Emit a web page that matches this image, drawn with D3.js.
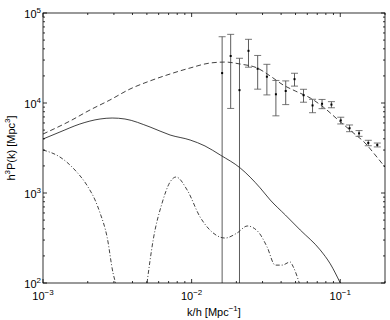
<!DOCTYPE html>
<html>
<head>
<meta charset="utf-8">
<script src="https://cdn.jsdelivr.net/npm/d3@7"></script>
<style>
  body { margin: 0; background: #fff; }
  text { font-family: "Liberation Sans", Arial, sans-serif; fill: #000; }
</style>
</head>
<body>
<script>
// data
// solid curve
const kSolid = [0.001, 0.0013, 0.00177, 0.00242, 0.00292, 0.00356, 0.00525, 0.00716, 0.00977, 0.0123, 0.0156, 0.0212, 0.0289, 0.0338, 0.0427, 0.0538, 0.0733, 0.0857, 0.1];
const pSolid = [3980, 4760, 5840, 6640, 6810, 6640, 5410, 4410, 3880, 3330, 2640, 1900, 1140, 836, 570, 388, 233, 163, 100];
// dashed curve
const kDashed = [0.001, 0.00152, 0.00207, 0.00282, 0.00385, 0.00525, 0.00716, 0.00977, 0.0133, 0.0168, 0.0212, 0.0276, 0.0338, 0.0413, 0.0498, 0.0628, 0.0768, 0.0969, 0.1205, 0.147, 0.172, 0.2];
const pDashed = [4520, 6310, 8360, 10800, 14300, 17600, 21000, 24500, 27800, 28500, 27100, 24500, 19950, 15850, 13600, 11370, 9030, 6470, 4760, 3590, 2640, 1940];
// dash-dot curve (null = drops below the axis)
const kDashDot = [0.001, 0.0013, 0.00164, 0.00201, 0.00224, 0.00242, 0.0027, 0.00296, 0.00308, null, 0.00501, 0.00551, 0.00633, 0.00716, 0.00786, 0.00933, 0.0114, 0.0129, 0.0168, 0.0202, 0.0237, 0.0281, 0.0322, 0.0365, 0.0406, 0.046, 0.0483, 0.053];
const pDashDot = [3005, 2510, 1800, 1165, 836, 600, 324, 129, 100, null, 100, 300, 774, 1325, 1505, 1080, 541, 408, 316, 359, 430, 369, 251, 158, 158, 171, 151, 100];
// measured points with error bars
const kData = [0.01604, 0.01831, 0.02099, 0.02413, 0.02782, 0.03209, 0.0369, 0.04295, 0.04923, 0.05661, 0.06509, 0.07542, 0.08723, 0.1008, 0.1155, 0.1338, 0.1544, 0.1775];
const pData = [21500, 33300, 13900, 38000, 24000, 19600, 12500, 13600, 18400, 12200, 9400, 9800, 9600, 6400, 5250, 4600, 3600, 3420];
const errData = [33000, 24600, 17500, 13000, 9750, 7300, 5300, 4000, 3000, 2000, 1600, 1150, 750, 550, 450, 340, 250, 170];
// axes
const xDomain = [0.001, 0.2];
const yDomain = [100, 100000];
const xTickExp = [-3, -2, -1];
const yTickExp = [2, 3, 4, 5];
//
const w = 390;
const h = 320;
const p = { t: 13, r: 5, b: 37, l: 43 };

// svg
const svg = d3
  .select("body")
  .append("svg")
  .attr("width", w)
  .attr("height", h);

const x = d3.scaleLog().domain(xDomain).range([p.l, w - p.r]);
const y = d3.scaleLog().domain(yDomain).range([h - p.b, p.t]);

svg
  .append("clipPath")
  .attr("id", "clip")
  .append("rect")
  .attr("x", p.l)
  .attr("y", p.t)
  .attr("width", w - p.l - p.r)
  .attr("height", h - p.t - p.b);

const plot = svg.append("g").attr("clip-path", "url(#clip)");

// curves
const line = d3
  .line()
  .defined((d) => d[0] !== null)
  .x((d) => x(d[0]))
  .y((d) => y(d[1]))
  .curve(d3.curveMonotoneX);

plot
  .append("path")
  .attr("d", line(d3.zip(kDashed, pDashed)))
  .attr("fill", "none")
  .attr("stroke", "#111")
  .attr("stroke-width", 0.8)
  .attr("stroke-dasharray", "5,3");

plot
  .append("path")
  .attr("d", line(d3.zip(kSolid, pSolid)))
  .attr("fill", "none")
  .attr("stroke", "#111")
  .attr("stroke-width", 0.8);

plot
  .append("path")
  .attr("d", line(d3.zip(kDashDot, pDashDot)))
  .attr("fill", "none")
  .attr("stroke", "#111")
  .attr("stroke-width", 0.8)
  .attr("stroke-dasharray", "4,2,1,2");

// error bars
const bars = d3.zip(kData, pData, errData);
const lo = (d) => y(Math.max(d[1] - d[2], yDomain[0]));
const cap = 3.5;

plot
  .selectAll(".bar")
  .data(bars)
  .enter()
  .append("line")
  .attr("class", "bar")
  .attr("x1", (d) => x(d[0]))
  .attr("x2", (d) => x(d[0]))
  .attr("y1", (d) => y(d[1] + d[2]))
  .attr("y2", lo)
  .attr("stroke", "#333")
  .attr("stroke-width", 0.8);

plot
  .selectAll(".capTop")
  .data(bars)
  .enter()
  .append("line")
  .attr("class", "capTop")
  .attr("x1", (d) => x(d[0]) - cap)
  .attr("x2", (d) => x(d[0]) + cap)
  .attr("y1", (d) => y(d[1] + d[2]))
  .attr("y2", (d) => y(d[1] + d[2]))
  .attr("stroke", "#555")
  .attr("stroke-width", 0.8);

plot
  .selectAll(".capLow")
  .data(bars.filter((d) => d[1] - d[2] > yDomain[0]))
  .enter()
  .append("line")
  .attr("class", "capLow")
  .attr("x1", (d) => x(d[0]) - cap)
  .attr("x2", (d) => x(d[0]) + cap)
  .attr("y1", lo)
  .attr("y2", lo)
  .attr("stroke", "#555")
  .attr("stroke-width", 0.8);

plot
  .selectAll(".dot")
  .data(bars)
  .enter()
  .append("rect")
  .attr("class", "dot")
  .attr("x", (d) => x(d[0]) - 1)
  .attr("y", (d) => y(d[1]) - 1)
  .attr("width", 2)
  .attr("height", 2)
  .attr("fill", "#000");

// ticks (inside, all four sides)
const minor = (dom) => {
  const out = [];
  for (let e = Math.floor(Math.log10(dom[0])); e <= Math.ceil(Math.log10(dom[1])); e++) {
    for (let m = 1; m < 10; m++) {
      const v = m * Math.pow(10, e);
      if (v >= dom[0] * 0.999 && v <= dom[1] * 1.001) out.push({ v, major: m === 1 });
    }
  }
  return out;
};

const axes = svg.append("g").attr("stroke", "#000").attr("stroke-width", 0.8);
const x0 = p.l, x1 = w - p.r, y0 = h - p.b, y1 = p.t;

minor(xDomain).forEach((t) => {
  const len = t.major ? 4 : 2;
  axes.append("line").attr("x1", x(t.v)).attr("x2", x(t.v)).attr("y1", y0).attr("y2", y0 - len);
  axes.append("line").attr("x1", x(t.v)).attr("x2", x(t.v)).attr("y1", y1).attr("y2", y1 + len);
});
minor(yDomain).forEach((t) => {
  const len = t.major ? 4 : 2;
  axes.append("line").attr("y1", y(t.v)).attr("y2", y(t.v)).attr("x1", x0).attr("x2", x0 + len);
  axes.append("line").attr("y1", y(t.v)).attr("y2", y(t.v)).attr("x1", x1).attr("x2", x1 - len);
});

axes
  .append("rect")
  .attr("x", x0)
  .attr("y", y1)
  .attr("width", x1 - x0)
  .attr("height", y0 - y1)
  .attr("fill", "none");

// tick labels
const pow10 = (sel, e) => {
  sel.append("tspan").text("10");
  sel.append("tspan").attr("dy", -5).attr("font-size", 8).text(e < 0 ? "\u2212" + -e : e);
};

yTickExp.forEach((e) => {
  svg
    .append("text")
    .attr("x", x0 - 2)
    .attr("y", y(Math.pow(10, e)) + 5)
    .attr("text-anchor", "end")
    .attr("font-size", 11)
    .call(pow10, e);
});

xTickExp.forEach((e) => {
  svg
    .append("text")
    .attr("x", x(Math.pow(10, e)))
    .attr("y", y0 + 17)
    .attr("text-anchor", "middle")
    .attr("font-size", 11)
    .call(pow10, e);
});

// axis titles
const xt = svg
  .append("text")
  .attr("x", (x0 + x1) / 2)
  .attr("y", h - 4)
  .attr("text-anchor", "middle")
  .attr("font-size", 11);
xt.append("tspan").text("k/h [Mpc");
xt.append("tspan").attr("dy", -5).attr("font-size", 8).text("\u22121");
xt.append("tspan").attr("dy", 5).text("]");

const yt = svg
  .append("text")
  .attr("transform", `translate(15, ${(y0 + y1) / 2}) rotate(-90)`)
  .attr("text-anchor", "middle")
  .attr("font-size", 11);
yt.append("tspan").text("h");
yt.append("tspan").attr("dy", -5).attr("font-size", 8).text("3");
yt.append("tspan").attr("dy", 5).text("P(k) [Mpc");
yt.append("tspan").attr("dy", -5).attr("font-size", 8).text("3");
yt.append("tspan").attr("dy", 5).text("]");
</script>
</body>
</html>
